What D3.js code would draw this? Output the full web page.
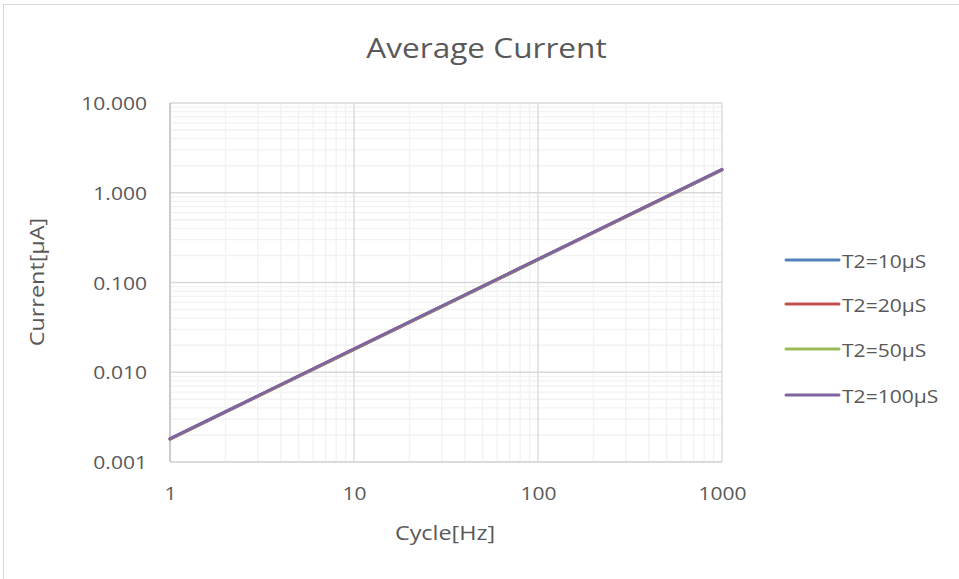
<!DOCTYPE html>
<html><head><meta charset="utf-8">
<script src="https://cdn.jsdelivr.net/npm/d3@7"></script>
<style>body{margin:0;background:#fff}svg{display:block}text{font-family:"Open Sans","Noto Sans",sans-serif}</style>
</head><body><svg id="c" width="959" height="579"></svg>
<script>
const cycleHz = [1, 10, 100, 1000];
const seriesNames = ["T2=10\u00b5S", "T2=20\u00b5S", "T2=50\u00b5S", "T2=100\u00b5S"];
const t2_10 = [0.00180, 0.0180, 0.180, 1.80];
const t2_20 = [0.00180, 0.0180, 0.180, 1.80];
const t2_50 = [0.00181, 0.0181, 0.181, 1.81];
const t2_100 = [0.00182, 0.0182, 0.182, 1.82];
const seriesValues = [t2_10, t2_20, t2_50, t2_100];
const colors = ["#4f81bd", "#c0504d", "#9bbb59", "#8064a2"];
const xTicks = [1, 10, 100, 1000];
const yTicks = [0.001, 0.01, 0.1, 1, 10];

const SX = 1.17; // horizontal glyph stretch
const TXT = "#595959";
const svg = d3.select("#c");
svg.append("rect").attr("x",3.5).attr("y",4.5).attr("width",1000).attr("height",1000)
  .attr("fill","none").attr("stroke","#d9d9d9");

const L=170, R=722, T=103, B=462;
const x = d3.scaleLog().domain([1,1000]).range([L,R]);
const y = d3.scaleLog().domain([0.001,10]).range([B,T]);

const minorX=[], minorY=[];
for (let d=1; d<1000; d*=10) for (let k=2;k<=9;k++) minorX.push(d*k);
for (let d=0.001; d<9; d*=10) for (let k=2;k<=9;k++) minorY.push(d*k);

const g = svg.append("g");
g.selectAll(".mx").data(minorX).join("line").attr("x1",d=>x(d)).attr("x2",d=>x(d)).attr("y1",T).attr("y2",B).attr("stroke","#f2f2f2").attr("stroke-width",1.3);
g.selectAll(".my").data(minorY).join("line").attr("y1",d=>y(d)).attr("y2",d=>y(d)).attr("x1",L).attr("x2",R).attr("stroke","#f2f2f2").attr("stroke-width",1.3);
g.selectAll(".Mx").data(xTicks).join("line").attr("x1",d=>x(d)).attr("x2",d=>x(d)).attr("y1",T).attr("y2",B).attr("stroke","#d9d9d9").attr("stroke-width",1.3);
g.selectAll(".My").data(yTicks).join("line").attr("y1",d=>y(d)).attr("y2",d=>y(d)).attr("x1",L).attr("x2",R).attr("stroke","#d9d9d9").attr("stroke-width",1.3);
g.append("line").attr("x1",L).attr("x2",L).attr("y1",T).attr("y2",B).attr("stroke","#bfbfbf").attr("stroke-width",1.3);
g.append("line").attr("x1",L).attr("x2",R).attr("y1",B).attr("y2",B).attr("stroke","#d9d9d9").attr("stroke-width",1.3);

const xAxis = svg.append("g").attr("transform",`translate(0,${B})`).call(d3.axisBottom(x).tickValues(xTicks).tickFormat(d3.format("d")).tickSize(0));
const yAxis = svg.append("g").attr("transform",`translate(${L},0)`).call(d3.axisLeft(y).tickValues(yTicks).tickFormat(d3.format(".3f")).tickSize(0));
[xAxis,yAxis].forEach(a=>{a.select(".domain").remove();a.selectAll("text").attr("fill",TXT).style("font-size","18px").style("font-family","'Open Sans',sans-serif").attr("dy",null).attr("x",null).attr("y",null);});
xAxis.selectAll("text").attr("transform",`translate(0,38) scale(${SX},1)`);
yAxis.selectAll("text").attr("transform",`translate(-23,6.5) scale(${SX},1)`);

const line = d3.line().x((d,i)=>x(cycleHz[i])).y(d=>y(d));
seriesValues.forEach((vals,i)=>{
  svg.append("path").datum(vals).attr("d",line).attr("fill","none").attr("stroke",colors[i]).attr("stroke-width",3).attr("stroke-linecap","round");
});

function label(tx,ty,size,str,anchor,rot){
  return svg.append("text").attr("transform",`translate(${tx},${ty})${rot?` rotate(${rot})`:""} scale(${SX},1)`)
    .attr("text-anchor",anchor).attr("fill",TXT).style("font-size",size+"px").text(str);
}
label(486.5,58,27,"Average Current","middle");
label(445,540,20,"Cycle[Hz]","middle");
label(44,282,20,"Current[\u00b5A]","middle",-90);

const ly = [260,304,349,395];
seriesNames.forEach((n,i)=>{
  svg.append("line").attr("x1",786).attr("x2",839).attr("y1",ly[i]).attr("y2",ly[i]).attr("stroke",colors[i]).attr("stroke-width",3).attr("stroke-linecap","round");
  label(842,ly[i]+8,18,n,"start");
});
</script></body></html>
